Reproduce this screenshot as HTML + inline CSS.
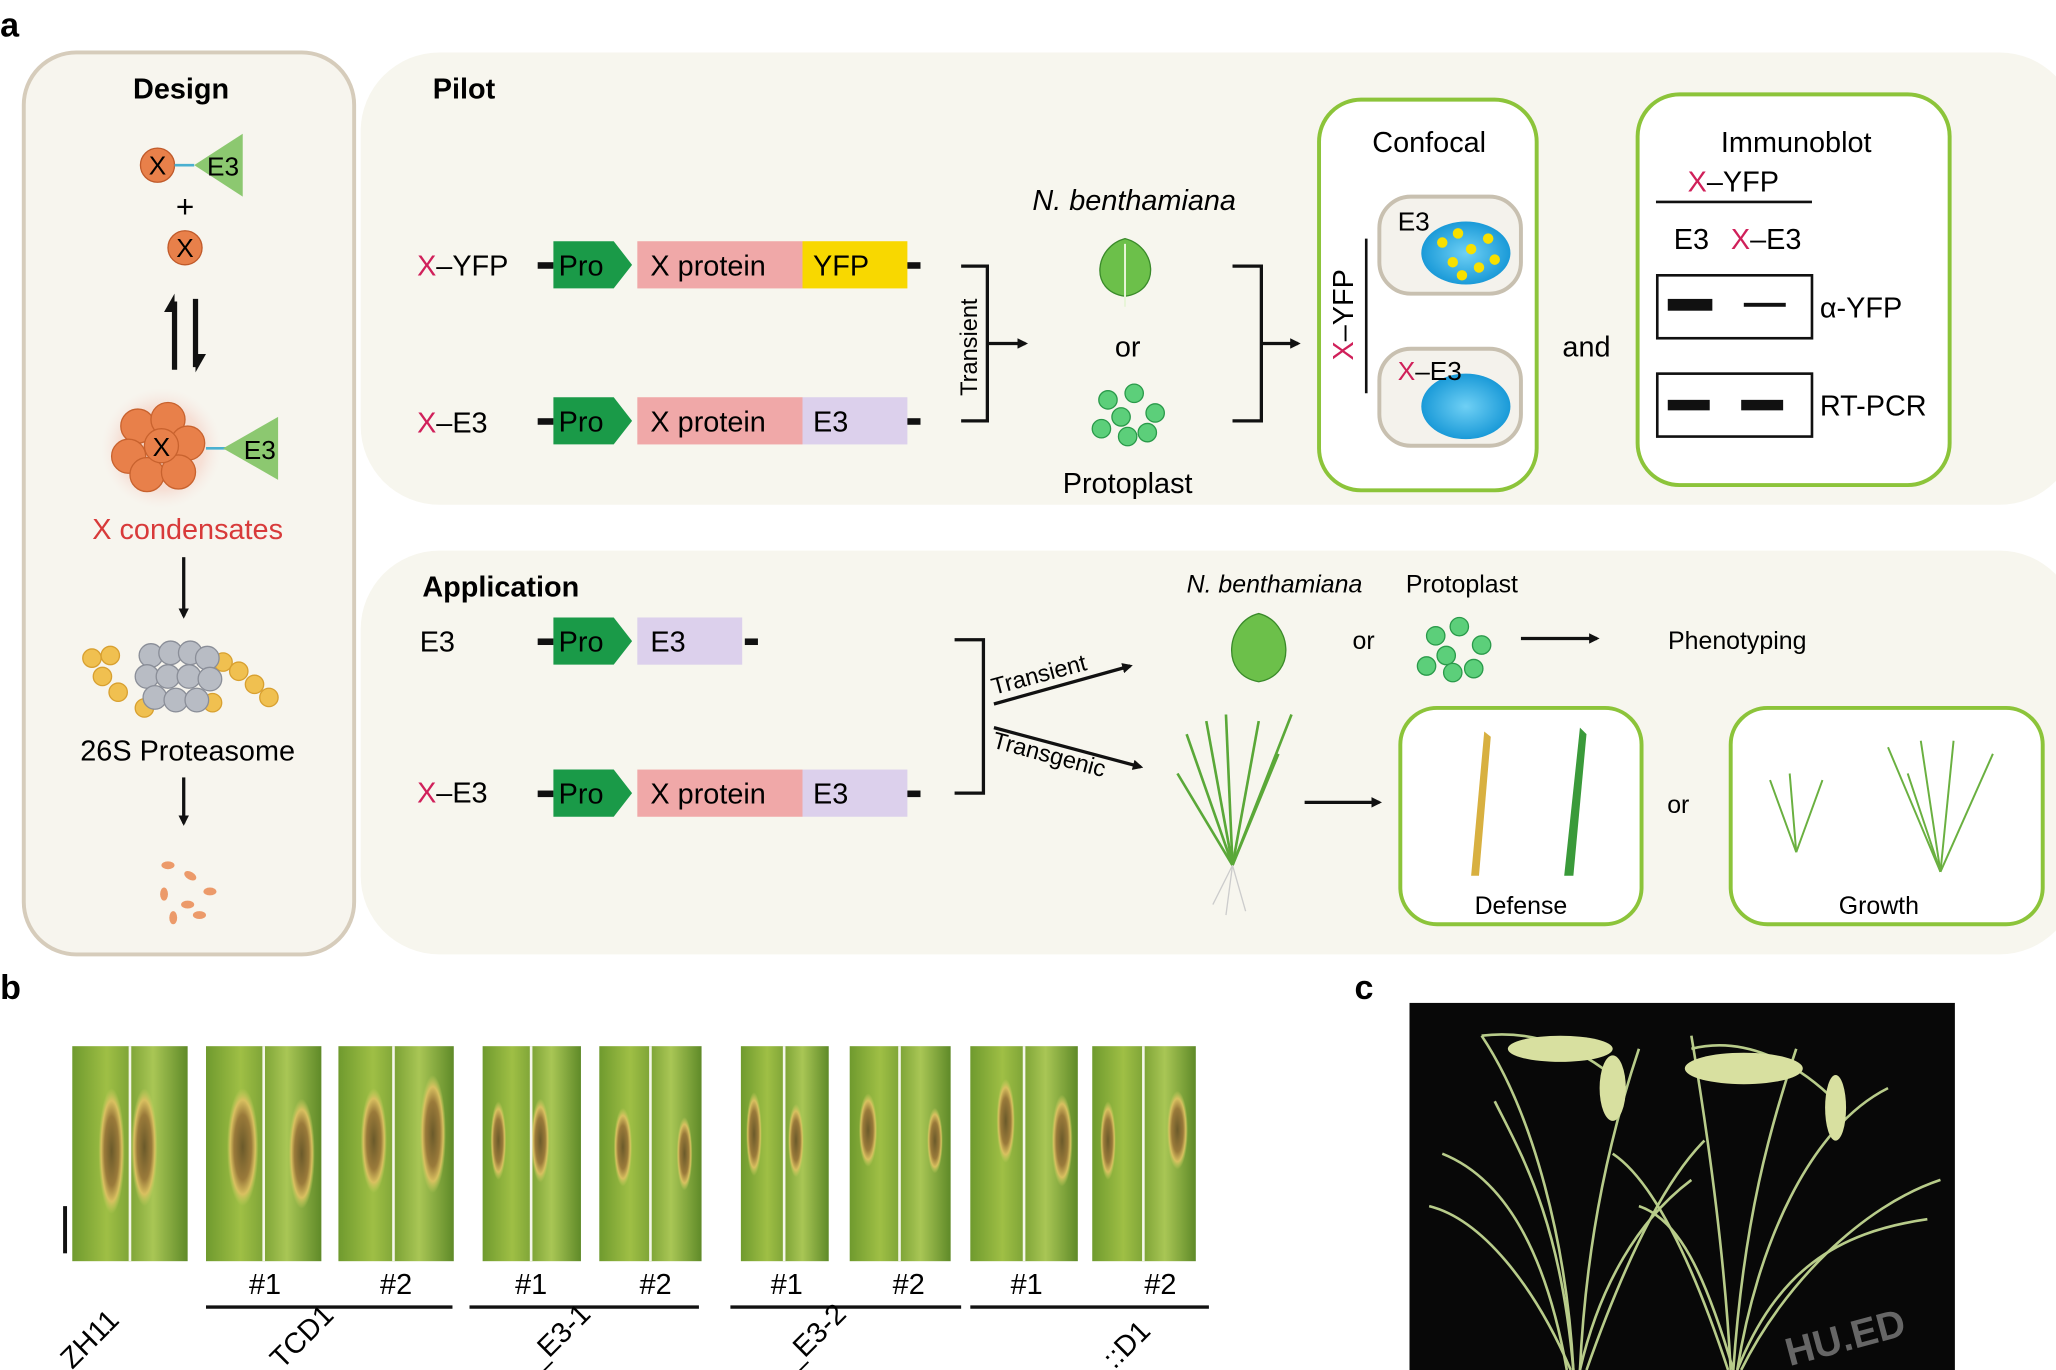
<!DOCTYPE html>
<html><head><meta charset="utf-8"><style>
html,body{margin:0;padding:0;background:#fff;}
svg{display:block;font-family:"Liberation Sans",sans-serif;}
</style></head><body>
<svg width="2056" height="1370" viewBox="0 0 1568 1045" xmlns="http://www.w3.org/2000/svg">
<defs>
<marker id="ah" markerWidth="8" markerHeight="8" refX="6" refY="4" orient="auto" markerUnits="userSpaceOnUse" viewBox="0 0 8 8"><path d="M0,0 L8,4 L0,8 z" fill="#111"/></marker>
<linearGradient id="leaf" x1="0" x2="1"><stop offset="0" stop-color="#6f9a2e"/><stop offset="0.3" stop-color="#9fbf45"/><stop offset="0.5" stop-color="#7ea437"/><stop offset="0.7" stop-color="#a9c655"/><stop offset="1" stop-color="#5f8a28"/></linearGradient>
<radialGradient id="lesion"><stop offset="0" stop-color="#6b5a2a"/><stop offset="0.55" stop-color="#9a7a3a"/><stop offset="0.8" stop-color="#d9c060"/><stop offset="1" stop-color="#c8d060" stop-opacity="0"/></radialGradient>
<radialGradient id="blob"><stop offset="0" stop-color="#6fd0f5"/><stop offset="1" stop-color="#1a9ad8"/></radialGradient>
<radialGradient id="halo"><stop offset="0" stop-color="#f3d0c0"/><stop offset="0.7" stop-color="#f6e0d6"/><stop offset="1" stop-color="#f7ece6" stop-opacity="0"/></radialGradient>
</defs>
<rect width="1568" height="1045" fill="#fff"/>
<text x="0" y="28" font-size="26" font-weight="bold">a</text>

<!-- Design panel -->
<rect x="18" y="40" width="252" height="688" rx="40" fill="#f7f5ee" stroke="#d6ccbb" stroke-width="3"/>
<text x="138" y="75" font-size="22" font-weight="bold" text-anchor="middle">Design</text>
<circle cx="120" cy="126" r="13" fill="#e8804a" stroke="#c05a2a"/><text x="120" y="133" font-size="20" text-anchor="middle">X</text>
<line x1="133" y1="126" x2="148" y2="126" stroke="#4ab0d0" stroke-width="2"/>
<polygon points="148,126 185,102 185,150" fill="#8cc870"/><text x="170" y="134" font-size="20" text-anchor="middle">E3</text>
<text x="141" y="166" font-size="24" text-anchor="middle">+</text>
<circle cx="141" cy="189" r="13" fill="#e8804a" stroke="#c05a2a"/><text x="141" y="196" font-size="20" text-anchor="middle">X</text>
<line x1="133" y1="282" x2="133" y2="230" stroke="#111" stroke-width="4"/><polygon points="125,238 133,224 133,238" fill="#111"/>
<line x1="149" y1="228" x2="149" y2="280" stroke="#111" stroke-width="4"/><polygon points="149,270 157,270 149,284" fill="#111"/>
<circle cx="123" cy="342" r="46" fill="url(#halo)"/>
<g fill="#e8804a" stroke="#c8622e">
<circle cx="105" cy="325" r="13"/><circle cx="128" cy="320" r="13"/><circle cx="143" cy="338" r="13"/><circle cx="98" cy="348" r="13"/><circle cx="112" cy="362" r="13"/><circle cx="136" cy="360" r="13"/><circle cx="123" cy="340" r="13"/></g>
<text x="123" y="348" font-size="20" text-anchor="middle">X</text>
<line x1="157" y1="342" x2="172" y2="342" stroke="#4ab0d0" stroke-width="2"/>
<polygon points="170,342 212,318 212,366" fill="#8cc870"/><text x="198" y="350" font-size="20" text-anchor="middle">E3</text>
<text x="143" y="411" font-size="22" fill="#d83a3a" text-anchor="middle">X condensates</text>
<line x1="140" y1="425" x2="140" y2="470" stroke="#111" stroke-width="2.5" marker-end="url(#ah)"/>
<g fill="#f0c050" stroke="#d8a030"><circle cx="70" cy="502" r="7"/><circle cx="78" cy="516" r="7"/><circle cx="90" cy="528" r="7"/><circle cx="84" cy="500" r="7"/><circle cx="170" cy="505" r="7"/><circle cx="182" cy="512" r="7"/><circle cx="194" cy="522" r="7"/><circle cx="205" cy="532" r="7"/><circle cx="162" cy="536" r="7"/><circle cx="110" cy="540" r="7"/></g>
<g fill="#b8bcc4" stroke="#8a8e98"><circle cx="115" cy="500" r="9"/><circle cx="130" cy="498" r="9"/><circle cx="145" cy="498" r="9"/><circle cx="158" cy="502" r="9"/><circle cx="112" cy="516" r="9"/><circle cx="128" cy="516" r="9"/><circle cx="144" cy="516" r="9"/><circle cx="160" cy="518" r="9"/><circle cx="118" cy="532" r="9"/><circle cx="134" cy="534" r="9"/><circle cx="150" cy="534" r="9"/></g>
<text x="143" y="580" font-size="22" text-anchor="middle">26S Proteasome</text>
<line x1="140" y1="593" x2="140" y2="628" stroke="#111" stroke-width="2.5" marker-end="url(#ah)"/>
<g fill="#ec9a6a"><ellipse cx="128" cy="660" rx="5" ry="3"/><ellipse cx="145" cy="668" rx="5" ry="3" transform="rotate(30 145 668)"/><ellipse cx="160" cy="680" rx="5" ry="3"/><ellipse cx="125" cy="682" rx="3" ry="5"/><ellipse cx="143" cy="690" rx="5" ry="3"/><ellipse cx="132" cy="700" rx="3" ry="5"/><ellipse cx="152" cy="698" rx="5" ry="3"/></g>

<!-- Pilot panel -->
<rect x="275" y="40" width="1310" height="345" rx="60" fill="#f7f6ee"/>
<text x="330" y="75" font-size="22" font-weight="bold">Pilot</text>
<g font-size="22">
<text x="318" y="210"><tspan fill="#d0205a">X</tspan>–YFP</text>
<text x="318" y="330"><tspan fill="#d0205a">X</tspan>–E3</text>
</g>
<g>
<rect x="410" y="200" width="12" height="5" fill="#111"/>
<polygon points="422,184 468,184 482,202 468,220 422,220" fill="#1a9a48"/><text x="426" y="210" font-size="22">Pro</text>
<rect x="486" y="184" width="126" height="36" fill="#f0a8a8"/><text x="496" y="210" font-size="22">X protein</text>
<rect x="612" y="184" width="80" height="36" fill="#f8d800"/><text x="620" y="210" font-size="22">YFP</text>
<rect x="692" y="200" width="10" height="5" fill="#111"/>
<rect x="410" y="319" width="12" height="5" fill="#111"/>
<polygon points="422,303 468,303 482,321 468,339 422,339" fill="#1a9a48"/><text x="426" y="329" font-size="22">Pro</text>
<rect x="486" y="303" width="126" height="36" fill="#f0a8a8"/><text x="496" y="329" font-size="22">X protein</text>
<rect x="612" y="303" width="80" height="36" fill="#dcd0ec"/><text x="620" y="329" font-size="22">E3</text>
<rect x="692" y="319" width="10" height="5" fill="#111"/>
</g>
<path d="M733,203 H753 V321 H733" fill="none" stroke="#111" stroke-width="2.5"/>
<line x1="753" y1="262" x2="782" y2="262" stroke="#111" stroke-width="2.5" marker-end="url(#ah)"/>
<text transform="translate(745,302) rotate(-90)" font-size="18">Transient</text>
<text x="865" y="160" font-size="22" font-style="italic" text-anchor="middle">N. benthamiana</text>
<path d="M858,182 C835,188 830,222 858,226 C886,222 882,188 858,182 Z" fill="#6cc04a" stroke="#3a8a2a"/><line x1="858" y1="186" x2="858" y2="234" stroke="#e8f5d8" stroke-width="1.5"/>
<text x="860" y="272" font-size="22" text-anchor="middle">or</text>
<g fill="#5ccf7a" stroke="#2a9a4a"><circle cx="845" cy="305" r="7"/><circle cx="865" cy="300" r="7"/><circle cx="881" cy="315" r="7"/><circle cx="855" cy="318" r="7"/><circle cx="840" cy="327" r="7"/><circle cx="860" cy="333" r="7"/><circle cx="875" cy="330" r="7"/></g>
<text x="860" y="376" font-size="22" text-anchor="middle">Protoplast</text>
<path d="M940,203 H962 V321 H940" fill="none" stroke="#111" stroke-width="2.5"/>
<line x1="962" y1="262" x2="990" y2="262" stroke="#111" stroke-width="2.5" marker-end="url(#ah)"/>
<rect x="1006" y="76" width="166" height="298" rx="32" fill="#fff" stroke="#8cc43a" stroke-width="3"/>
<text x="1090" y="116" font-size="22" text-anchor="middle">Confocal</text>
<line x1="1042" y1="182" x2="1042" y2="300" stroke="#111" stroke-width="2"/>
<text transform="translate(1032,275) rotate(-90)" font-size="22"><tspan fill="#d0205a">X</tspan>–YFP</text>
<rect x="1052" y="150" width="108" height="74" rx="24" fill="#f4f2ec" stroke="#c8c0b0" stroke-width="3"/>
<ellipse cx="1118" cy="193" rx="34" ry="24" fill="url(#blob)"/>
<g fill="#f8e000"><circle cx="1100" cy="185" r="4"/><circle cx="1112" cy="178" r="4"/><circle cx="1122" cy="190" r="4"/><circle cx="1135" cy="182" r="4"/><circle cx="1108" cy="200" r="4"/><circle cx="1128" cy="204" r="4"/><circle cx="1140" cy="198" r="4"/><circle cx="1115" cy="210" r="4"/></g>
<text x="1066" y="176" font-size="20">E3</text>
<rect x="1052" y="266" width="108" height="74" rx="24" fill="#f4f2ec" stroke="#c8c0b0" stroke-width="3"/>
<ellipse cx="1118" cy="310" rx="34" ry="25" fill="url(#blob)"/>
<text x="1066" y="290" font-size="20"><tspan fill="#d0205a">X</tspan>–E3</text>
<text x="1210" y="272" font-size="22" text-anchor="middle">and</text>
<rect x="1249" y="72" width="238" height="298" rx="32" fill="#fff" stroke="#8cc43a" stroke-width="3"/>
<text x="1370" y="116" font-size="22" text-anchor="middle">Immunoblot</text>
<text x="1322" y="146" font-size="22" text-anchor="middle"><tspan fill="#d0205a">X</tspan>–YFP</text>
<line x1="1263" y1="154" x2="1382" y2="154" stroke="#111" stroke-width="2"/>
<text x="1290" y="190" font-size="22" text-anchor="middle">E3</text><text x="1347" y="190" font-size="22" text-anchor="middle"><tspan fill="#d0205a">X</tspan>–E3</text>
<rect x="1264" y="210" width="118" height="48" fill="#fff" stroke="#111" stroke-width="2"/>
<rect x="1272" y="228" width="34" height="9" fill="#111"/><rect x="1330" y="231" width="32" height="3" fill="#111"/>
<text x="1388" y="242" font-size="22">α-YFP</text>
<rect x="1264" y="285" width="118" height="48" fill="#fff" stroke="#111" stroke-width="2"/>
<rect x="1272" y="305" width="32" height="8" fill="#111"/><rect x="1328" y="305" width="32" height="8" fill="#111"/>
<text x="1388" y="317" font-size="22">RT-PCR</text>

<!-- Application panel -->
<rect x="275" y="420" width="1310" height="308" rx="60" fill="#f7f6ee"/>
<text x="322" y="455" font-size="22" font-weight="bold">Application</text>
<text x="320" y="497" font-size="22">E3</text>
<text x="318" y="612" font-size="22"><tspan fill="#d0205a">X</tspan>–E3</text>
<rect x="410" y="487" width="12" height="5" fill="#111"/>
<polygon points="422,471 468,471 482,489 468,507 422,507" fill="#1a9a48"/><text x="426" y="497" font-size="22">Pro</text>
<rect x="486" y="471" width="80" height="36" fill="#dcd0ec"/><text x="496" y="497" font-size="22">E3</text>
<rect x="568" y="487" width="10" height="5" fill="#111"/>
<rect x="410" y="603" width="12" height="5" fill="#111"/>
<polygon points="422,587 468,587 482,605 468,623 422,623" fill="#1a9a48"/><text x="426" y="613" font-size="22">Pro</text>
<rect x="486" y="587" width="126" height="36" fill="#f0a8a8"/><text x="496" y="613" font-size="22">X protein</text>
<rect x="612" y="587" width="80" height="36" fill="#dcd0ec"/><text x="620" y="613" font-size="22">E3</text>
<rect x="692" y="603" width="10" height="5" fill="#111"/>
<path d="M728,488 H750 V605 H728" fill="none" stroke="#111" stroke-width="2.5"/>
<line x1="758" y1="537" x2="862" y2="508" stroke="#111" stroke-width="2.5" marker-end="url(#ah)"/>
<line x1="758" y1="555" x2="870" y2="585" stroke="#111" stroke-width="2.5" marker-end="url(#ah)"/>
<text transform="translate(758,530) rotate(-15)" font-size="18">Transient</text>
<text transform="translate(756,570) rotate(15)" font-size="18">Transgenic</text>
<text x="972" y="452" font-size="19" font-style="italic" text-anchor="middle">N. benthamiana</text>
<text x="1115" y="452" font-size="19" text-anchor="middle">Protoplast</text>
<path d="M960,468 C935,474 930,515 960,520 C990,515 985,474 960,468 Z" fill="#6cc04a" stroke="#3a8a2a"/>
<text x="1040" y="495" font-size="19" text-anchor="middle">or</text>
<g fill="#5ccf7a" stroke="#2a9a4a"><circle cx="1095" cy="485" r="7"/><circle cx="1113" cy="478" r="7"/><circle cx="1130" cy="492" r="7"/><circle cx="1103" cy="500" r="7"/><circle cx="1088" cy="508" r="7"/><circle cx="1108" cy="513" r="7"/><circle cx="1124" cy="510" r="7"/></g>
<line x1="1160" y1="487" x2="1218" y2="487" stroke="#111" stroke-width="2.5" marker-end="url(#ah)"/>
<text x="1325" y="495" font-size="19" text-anchor="middle">Phenotyping</text>
<g stroke="#5aa838" stroke-width="2" fill="none"><path d="M940,660 L905,560"/><path d="M940,660 L920,550"/><path d="M940,660 L935,545"/><path d="M940,660 L960,550"/><path d="M940,660 L985,545"/><path d="M940,660 L975,575"/><path d="M940,660 L898,590"/></g>
<g stroke="#ccc" stroke-width="1" fill="none"><path d="M940,660 L925,690"/><path d="M940,660 L950,695"/><path d="M940,660 L935,698"/></g>
<line x1="995" y1="612" x2="1052" y2="612" stroke="#111" stroke-width="2.5" marker-end="url(#ah)"/>
<rect x="1068" y="540" width="184" height="165" rx="28" fill="#fff" stroke="#8cc43a" stroke-width="3"/>
<path d="M1122,668 L1132,558 L1137,562 L1128,668 Z" fill="#d8b040"/>
<path d="M1193,668 L1205,555 L1210,560 L1200,668 Z" fill="#3a9a3a"/>
<text x="1160" y="697" font-size="19" text-anchor="middle">Defense</text>
<text x="1280" y="620" font-size="19" text-anchor="middle">or</text>
<rect x="1320" y="540" width="238" height="165" rx="28" fill="#fff" stroke="#8cc43a" stroke-width="3"/>
<g stroke="#6ab040" stroke-width="1.5" fill="none"><path d="M1370,650 L1350,595"/><path d="M1370,650 L1365,590"/><path d="M1370,650 L1390,595"/><path d="M1480,665 L1440,570"/><path d="M1480,665 L1465,565"/><path d="M1480,665 L1490,565"/><path d="M1480,665 L1520,575"/><path d="M1480,665 L1455,590"/></g>
<text x="1433" y="697" font-size="19" text-anchor="middle">Growth</text>

<!-- Panel b -->
<text x="0" y="762" font-size="26" font-weight="bold">b</text>
<g>
<rect x="55" y="798" width="88" height="164" fill="url(#leaf)"/>
<rect x="157" y="798" width="88" height="164" fill="url(#leaf)"/>
<rect x="258" y="798" width="88" height="164" fill="url(#leaf)"/>
<rect x="368" y="798" width="75" height="164" fill="url(#leaf)"/>
<rect x="457" y="798" width="78" height="164" fill="url(#leaf)"/>
<rect x="565" y="798" width="67" height="164" fill="url(#leaf)"/>
<rect x="648" y="798" width="77" height="164" fill="url(#leaf)"/>
<rect x="740" y="798" width="82" height="164" fill="url(#leaf)"/>
<rect x="833" y="798" width="79" height="164" fill="url(#leaf)"/>
</g>
<g fill="url(#lesion)">
<ellipse cx="85" cy="878" rx="10" ry="48"/><ellipse cx="110" cy="875" rx="10" ry="45"/>
<ellipse cx="185" cy="875" rx="12" ry="45"/><ellipse cx="230" cy="880" rx="10" ry="42"/>
<ellipse cx="285" cy="870" rx="10" ry="40"/><ellipse cx="330" cy="865" rx="10" ry="45"/>
<ellipse cx="380" cy="870" rx="6" ry="30"/><ellipse cx="412" cy="870" rx="7" ry="32"/>
<ellipse cx="475" cy="875" rx="7" ry="30"/><ellipse cx="522" cy="880" rx="6" ry="28"/>
<ellipse cx="575" cy="865" rx="6" ry="32"/><ellipse cx="607" cy="870" rx="6" ry="28"/>
<ellipse cx="662" cy="862" rx="7" ry="28"/><ellipse cx="713" cy="870" rx="6" ry="25"/>
<ellipse cx="767" cy="855" rx="7" ry="32"/><ellipse cx="810" cy="870" rx="8" ry="35"/>
<ellipse cx="845" cy="870" rx="6" ry="30"/><ellipse cx="898" cy="862" rx="8" ry="30"/>
</g>
<g stroke="#f4f6ea" stroke-width="2"><line x1="99" y1="798" x2="99" y2="962"/><line x1="201" y1="798" x2="201" y2="962"/><line x1="300" y1="798" x2="300" y2="962"/><line x1="405" y1="798" x2="405" y2="962"/><line x1="496" y1="798" x2="496" y2="962"/><line x1="598" y1="798" x2="598" y2="962"/><line x1="686" y1="798" x2="686" y2="962"/><line x1="781" y1="798" x2="781" y2="962"/><line x1="872" y1="798" x2="872" y2="962"/></g>
<rect x="48" y="920" width="3" height="36" fill="#111"/>
<g font-size="22" text-anchor="middle">
<text x="202" y="987">#1</text><text x="302" y="987">#2</text>
<text x="405" y="987">#1</text><text x="500" y="987">#2</text>
<text x="600" y="987">#1</text><text x="693" y="987">#2</text>
<text x="783" y="987">#1</text><text x="885" y="987">#2</text>
</g>
<g stroke="#111" stroke-width="2.5"><line x1="157" y1="997" x2="345" y2="997"/><line x1="358" y1="997" x2="533" y2="997"/><line x1="557" y1="997" x2="733" y2="997"/><line x1="740" y1="997" x2="922" y2="997"/></g>
<g font-size="22">
<text transform="translate(55,1045) rotate(-45)">ZH11</text>
<text transform="translate(215,1045) rotate(-45)">TCD1</text>
<text transform="translate(410,1045) rotate(-45)">_E3-1</text>
<text transform="translate(605,1045) rotate(-45)">_E3-2</text>
<text transform="translate(850,1045) rotate(-45)">::D1</text>
</g>

<!-- Panel c -->
<text x="1033" y="762" font-size="26" font-weight="bold">c</text>
<rect x="1075" y="765" width="416" height="280" fill="#080808"/>
<g stroke="#b8cc8a" stroke-width="2" fill="none">
<path d="M1200,1045 C1195,950 1170,850 1130,790"/><path d="M1205,1045 C1210,940 1230,860 1250,800"/>
<path d="M1195,1045 C1180,960 1150,900 1100,880"/><path d="M1210,1045 C1240,960 1270,900 1300,870"/>
<path d="M1320,1045 C1315,950 1300,850 1290,790"/><path d="M1325,1045 C1340,950 1380,860 1440,830"/>
<path d="M1318,1045 C1290,960 1260,900 1230,880"/><path d="M1328,1045 C1360,980 1420,920 1480,900"/>
<path d="M1130,790 C1170,785 1210,800 1240,830"/><path d="M1290,800 C1330,790 1370,810 1400,840"/>
<path d="M1198,1045 C1170,980 1130,930 1090,920"/><path d="M1205,1045 C1220,980 1250,930 1290,900"/>
<path d="M1322,1045 C1300,970 1280,930 1250,920"/><path d="M1325,1045 C1355,970 1400,940 1470,930"/>
<path d="M1200,1045 C1190,930 1160,880 1140,840"/><path d="M1322,1045 C1330,930 1350,860 1370,800"/>
</g>
<g fill="#d8e0a0"><ellipse cx="1190" cy="800" rx="40" ry="10"/><ellipse cx="1330" cy="815" rx="45" ry="12"/><ellipse cx="1230" cy="830" rx="10" ry="25"/><ellipse cx="1400" cy="845" rx="8" ry="25"/></g>
<text x="1410" y="1030" font-size="30" font-weight="bold" fill="#666" transform="rotate(-15 1410 1030)" text-anchor="middle">HU.ED</text>
</svg>
</body></html>
